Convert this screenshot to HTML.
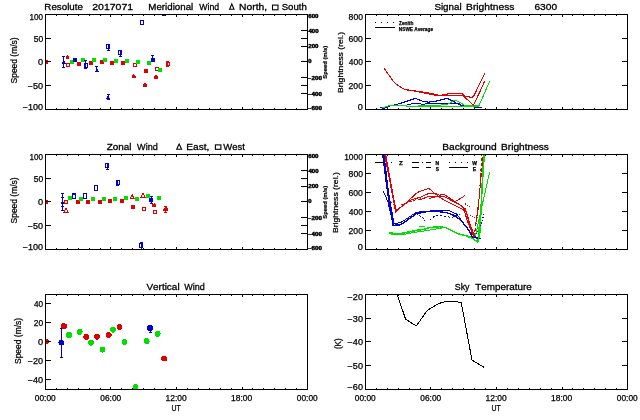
<!DOCTYPE html><html><head><meta charset="utf-8"><title>Resolute 2017071</title>
<style>html,body{margin:0;padding:0;background:#fff;}svg{display:block;will-change:transform;}text{font-family:'Liberation Sans', Arial, Helvetica, sans-serif;fill:#000;stroke:#000;stroke-width:0.25px;font-kerning:none;}</style></head><body>
<svg width="640" height="420" viewBox="0 0 640 420">
<rect width="640" height="420" fill="#fff"/>
<text x="44.35" y="9.8" font-size="9.3" textLength="38.53" lengthAdjust="spacingAndGlyphs" style="stroke-width:0.3px">Resolute</text>
<text x="92.22" y="9.8" font-size="9.3" textLength="40.94" lengthAdjust="spacingAndGlyphs" style="stroke-width:0.3px">2017071</text>
<text x="148.35" y="9.8" font-size="9.3" textLength="44.85" lengthAdjust="spacingAndGlyphs" style="stroke-width:0.3px">Meridional</text>
<text x="199.31" y="9.8" font-size="9.3" textLength="19.8" lengthAdjust="spacingAndGlyphs" style="stroke-width:0.3px">Wind</text>
<text x="239.11" y="9.8" font-size="9.3" textLength="27.97" lengthAdjust="spacingAndGlyphs" style="stroke-width:0.3px">North,</text>
<text x="281.71" y="9.8" font-size="9.3" textLength="25.16" lengthAdjust="spacingAndGlyphs" style="stroke-width:0.3px">South</text>
<text x="106.74" y="149.8" font-size="9.3" textLength="24.78" lengthAdjust="spacingAndGlyphs" style="stroke-width:0.3px">Zonal</text>
<text x="137.11" y="149.8" font-size="9.3" textLength="20.62" lengthAdjust="spacingAndGlyphs" style="stroke-width:0.3px">Wind</text>
<text x="186.32" y="149.8" font-size="9.3" textLength="23.09" lengthAdjust="spacingAndGlyphs" style="stroke-width:0.3px">East,</text>
<text x="223.31" y="149.8" font-size="9.3" textLength="21.51" lengthAdjust="spacingAndGlyphs" style="stroke-width:0.3px">West</text>
<text x="146.41" y="289.9" font-size="9.3" textLength="33.21" lengthAdjust="spacingAndGlyphs" style="stroke-width:0.3px">Vertical</text>
<text x="184.31" y="289.9" font-size="9.3" textLength="20.52" lengthAdjust="spacingAndGlyphs" style="stroke-width:0.3px">Wind</text>
<text x="434.41" y="9.8" font-size="9.3" textLength="27.2" lengthAdjust="spacingAndGlyphs" style="stroke-width:0.3px">Signal</text>
<text x="466.11" y="9.8" font-size="9.3" textLength="48.31" lengthAdjust="spacingAndGlyphs" style="stroke-width:0.3px">Brightness</text>
<text x="534.43" y="9.8" font-size="9.3" textLength="22.72" lengthAdjust="spacingAndGlyphs" style="stroke-width:0.3px">6300</text>
<text x="442.21" y="149.8" font-size="9.3" textLength="54.39" lengthAdjust="spacingAndGlyphs" style="stroke-width:0.3px">Background</text>
<text x="501.02" y="149.8" font-size="9.3" textLength="47.9" lengthAdjust="spacingAndGlyphs" style="stroke-width:0.3px">Brightness</text>
<text x="454.75" y="289.9" font-size="9.3" textLength="14.72" lengthAdjust="spacingAndGlyphs" style="stroke-width:0.3px">Sky</text>
<text x="475.33" y="289.9" font-size="9.3" textLength="56.46" lengthAdjust="spacingAndGlyphs" style="stroke-width:0.3px">Temperature</text>
<path d="M231.8,3.9L234.0,9.2H229.6Z" fill="none" stroke="#000" stroke-width="1.1"/>
<rect x="272.5" y="5.1" width="5.5" height="4.700000000000001" fill="none" stroke="#000" stroke-width="1.1"/>
<path d="M179.14999999999998,144.0L181.6,149.2H176.7Z" fill="none" stroke="#000" stroke-width="1.1"/>
<rect x="215.4" y="144.9" width="5.5" height="4.400000000000006" fill="none" stroke="#000" stroke-width="1.1"/>
<text x="29.58" y="19.6" font-size="8.2" textLength="13.53" lengthAdjust="spacingAndGlyphs">100</text>
<text x="33.66" y="41.9" font-size="8.2" textLength="9.47" lengthAdjust="spacingAndGlyphs">50</text>
<text x="38.04" y="64.6" font-size="8.2" textLength="5.12" lengthAdjust="spacingAndGlyphs">0</text>
<text x="27.75" y="88.8" font-size="8.2" textLength="15.4" lengthAdjust="spacingAndGlyphs">−50</text>
<text x="22.75" y="109.6" font-size="8.2" textLength="20.4" lengthAdjust="spacingAndGlyphs">−100</text>
<text x="29.58" y="159.6" font-size="8.2" textLength="13.53" lengthAdjust="spacingAndGlyphs">100</text>
<text x="33.66" y="181.9" font-size="8.2" textLength="9.47" lengthAdjust="spacingAndGlyphs">50</text>
<text x="38.04" y="204.6" font-size="8.2" textLength="5.12" lengthAdjust="spacingAndGlyphs">0</text>
<text x="27.75" y="228.8" font-size="8.2" textLength="15.4" lengthAdjust="spacingAndGlyphs">−50</text>
<text x="22.75" y="249.6" font-size="8.2" textLength="20.4" lengthAdjust="spacingAndGlyphs">−100</text>
<text x="34.01" y="306.8" font-size="8.2" textLength="9.11" lengthAdjust="spacingAndGlyphs">40</text>
<text x="33.78" y="325.7" font-size="8.2" textLength="9.35" lengthAdjust="spacingAndGlyphs">20</text>
<text x="38.04" y="344.7" font-size="8.2" textLength="5.12" lengthAdjust="spacingAndGlyphs">0</text>
<text x="27.75" y="363.6" font-size="8.2" textLength="15.4" lengthAdjust="spacingAndGlyphs">−20</text>
<text x="27.75" y="382.6" font-size="8.2" textLength="15.4" lengthAdjust="spacingAndGlyphs">−40</text>
<text x="348.63" y="19.6" font-size="8.2" textLength="14.31" lengthAdjust="spacingAndGlyphs">800</text>
<text x="348.56" y="42.0" font-size="8.2" textLength="14.37" lengthAdjust="spacingAndGlyphs">600</text>
<text x="348.81" y="65.3" font-size="8.2" textLength="14.12" lengthAdjust="spacingAndGlyphs">400</text>
<text x="348.57" y="89.0" font-size="8.2" textLength="14.37" lengthAdjust="spacingAndGlyphs">200</text>
<text x="357.84" y="109.6" font-size="8.2" textLength="5.12" lengthAdjust="spacingAndGlyphs">0</text>
<text x="344.16" y="159.6" font-size="8.2" textLength="18.77" lengthAdjust="spacingAndGlyphs">1000</text>
<text x="348.63" y="177.0" font-size="8.2" textLength="14.31" lengthAdjust="spacingAndGlyphs">800</text>
<text x="348.56" y="196.0" font-size="8.2" textLength="14.37" lengthAdjust="spacingAndGlyphs">600</text>
<text x="348.81" y="215.0" font-size="8.2" textLength="14.12" lengthAdjust="spacingAndGlyphs">400</text>
<text x="348.57" y="234.0" font-size="8.2" textLength="14.37" lengthAdjust="spacingAndGlyphs">200</text>
<text x="357.84" y="249.6" font-size="8.2" textLength="5.12" lengthAdjust="spacingAndGlyphs">0</text>
<text x="347.55" y="299.8" font-size="8.2" textLength="15.4" lengthAdjust="spacingAndGlyphs">−20</text>
<text x="347.55" y="321.7" font-size="8.2" textLength="15.4" lengthAdjust="spacingAndGlyphs">−30</text>
<text x="347.55" y="345.4" font-size="8.2" textLength="15.4" lengthAdjust="spacingAndGlyphs">−40</text>
<text x="347.55" y="369.2" font-size="8.2" textLength="15.4" lengthAdjust="spacingAndGlyphs">−50</text>
<text x="347.55" y="389.6" font-size="8.2" textLength="15.4" lengthAdjust="spacingAndGlyphs">−60</text>
<text x="308.29" y="17.7" font-size="4.8" textLength="10.25" lengthAdjust="spacingAndGlyphs" font-weight="bold" style="stroke-width:0.4px">600</text>
<text x="308.46" y="32.8" font-size="4.8" textLength="10.07" lengthAdjust="spacingAndGlyphs" font-weight="bold" style="stroke-width:0.4px">400</text>
<text x="308.29" y="48.4" font-size="4.8" textLength="10.25" lengthAdjust="spacingAndGlyphs" font-weight="bold" style="stroke-width:0.4px">200</text>
<text x="308.37" y="63.3" font-size="4.8" textLength="3.26" lengthAdjust="spacingAndGlyphs" font-weight="bold" style="stroke-width:0.4px">0</text>
<text x="307.89" y="79.6" font-size="4.8" textLength="14.16" lengthAdjust="spacingAndGlyphs" font-weight="bold" style="stroke-width:0.4px">−200</text>
<text x="307.89" y="95.6" font-size="4.8" textLength="14.16" lengthAdjust="spacingAndGlyphs" font-weight="bold" style="stroke-width:0.4px">−400</text>
<text x="307.89" y="109.6" font-size="4.8" textLength="14.16" lengthAdjust="spacingAndGlyphs" font-weight="bold" style="stroke-width:0.4px">−600</text>
<text transform="translate(327.0,78.67) rotate(-90)" x="0" y="0" font-size="5.2" textLength="32.95" lengthAdjust="spacingAndGlyphs" font-weight="bold" style="stroke-width:0.2px">Speed (m/s)</text>
<text x="308.29" y="157.7" font-size="4.8" textLength="10.25" lengthAdjust="spacingAndGlyphs" font-weight="bold" style="stroke-width:0.4px">600</text>
<text x="308.46" y="172.8" font-size="4.8" textLength="10.07" lengthAdjust="spacingAndGlyphs" font-weight="bold" style="stroke-width:0.4px">400</text>
<text x="308.29" y="188.4" font-size="4.8" textLength="10.25" lengthAdjust="spacingAndGlyphs" font-weight="bold" style="stroke-width:0.4px">200</text>
<text x="308.37" y="203.3" font-size="4.8" textLength="3.26" lengthAdjust="spacingAndGlyphs" font-weight="bold" style="stroke-width:0.4px">0</text>
<text x="307.89" y="219.6" font-size="4.8" textLength="14.16" lengthAdjust="spacingAndGlyphs" font-weight="bold" style="stroke-width:0.4px">−200</text>
<text x="307.89" y="235.6" font-size="4.8" textLength="14.16" lengthAdjust="spacingAndGlyphs" font-weight="bold" style="stroke-width:0.4px">−400</text>
<text x="307.89" y="249.6" font-size="4.8" textLength="14.16" lengthAdjust="spacingAndGlyphs" font-weight="bold" style="stroke-width:0.4px">−600</text>
<text transform="translate(327.0,218.67) rotate(-90)" x="0" y="0" font-size="5.2" textLength="32.95" lengthAdjust="spacingAndGlyphs" font-weight="bold" style="stroke-width:0.2px">Speed (m/s)</text>
<text transform="translate(16.9,83.38) rotate(-90)" x="0" y="0" font-size="8.5" textLength="45.91" lengthAdjust="spacingAndGlyphs">Speed (m/s)</text>
<text transform="translate(16.9,223.38) rotate(-90)" x="0" y="0" font-size="8.5" textLength="45.91" lengthAdjust="spacingAndGlyphs">Speed (m/s)</text>
<text transform="translate(20.6,363.98) rotate(-90)" x="0" y="0" font-size="8.5" textLength="46.11" lengthAdjust="spacingAndGlyphs">Speed (m/s)</text>
<text transform="translate(342.6,93.01) rotate(-90)" x="0" y="0" font-size="8.0" textLength="61.15" lengthAdjust="spacingAndGlyphs">Brightness (rel.)</text>
<text transform="translate(338.3,233.01) rotate(-90)" x="0" y="0" font-size="8.0" textLength="60.84" lengthAdjust="spacingAndGlyphs">Brightness (rel.)</text>
<text transform="translate(340.6,349.1) rotate(-90)" x="0" y="0" font-size="8.6" textLength="10.7" lengthAdjust="spacingAndGlyphs">(K)</text>
<text x="34.87" y="400.7" font-size="8.2" textLength="20.85" lengthAdjust="spacingAndGlyphs">00:00</text>
<text x="100.37" y="400.7" font-size="8.2" textLength="20.85" lengthAdjust="spacingAndGlyphs">06:00</text>
<text x="165.56" y="400.7" font-size="8.2" textLength="21.18" lengthAdjust="spacingAndGlyphs">12:00</text>
<text x="231.06" y="400.7" font-size="8.2" textLength="21.18" lengthAdjust="spacingAndGlyphs">18:00</text>
<text x="296.87" y="400.7" font-size="8.2" textLength="20.85" lengthAdjust="spacingAndGlyphs">00:00</text>
<text x="171.56" y="410.8" font-size="8.2" textLength="9.3" lengthAdjust="spacingAndGlyphs">UT</text>
<text x="354.87" y="400.7" font-size="8.2" textLength="20.85" lengthAdjust="spacingAndGlyphs">00:00</text>
<text x="420.37" y="400.7" font-size="8.2" textLength="20.85" lengthAdjust="spacingAndGlyphs">06:00</text>
<text x="485.56" y="400.7" font-size="8.2" textLength="21.18" lengthAdjust="spacingAndGlyphs">12:00</text>
<text x="551.06" y="400.7" font-size="8.2" textLength="21.18" lengthAdjust="spacingAndGlyphs">18:00</text>
<text x="616.87" y="400.7" font-size="8.2" textLength="20.85" lengthAdjust="spacingAndGlyphs">00:00</text>
<text x="491.56" y="410.8" font-size="8.2" textLength="9.3" lengthAdjust="spacingAndGlyphs">UT</text>
<text x="399.04" y="24.5" font-size="5.2" textLength="14.3" lengthAdjust="spacingAndGlyphs" font-weight="bold">Zenith</text>
<text x="398.8" y="30.8" font-size="5.2" textLength="34.22" lengthAdjust="spacingAndGlyphs" font-weight="bold">NSWE Average</text>
<path d="M375,22.5h1M381,22.5h1M387,22.5h1M393,22.5h1" stroke="#000" stroke-width="1" shape-rendering="crispEdges"/>
<path d="M375,27.5H394.5" stroke="#000" stroke-width="1" shape-rendering="crispEdges"/>
<text x="399.0" y="164.5" font-size="4.6" textLength="3.79" lengthAdjust="spacingAndGlyphs" font-weight="bold">Z</text>
<text x="435.59" y="164.7" font-size="4.6" textLength="3.62" lengthAdjust="spacingAndGlyphs" font-weight="bold">N</text>
<text x="435.78" y="170.6" font-size="4.6" textLength="3.24" lengthAdjust="spacingAndGlyphs" font-weight="bold">S</text>
<text x="472.28" y="164.6" font-size="4.6" textLength="4.74" lengthAdjust="spacingAndGlyphs" font-weight="bold">W</text>
<text x="472.79" y="170.6" font-size="4.6" textLength="3.32" lengthAdjust="spacingAndGlyphs" font-weight="bold">E</text>
<g stroke="#000" stroke-width="1" shape-rendering="crispEdges" fill="none">
<path d="M375,162.5H383.5M387,162.5h1M391,162.5h1"/>
<path d="M412,162.5H419M422,162.5h1M426,162.5H431"/>
<path d="M412,167.5H419M426,167.5H431"/>
<path d="M449,162.5h1M455,162.5h1M461,162.5h1M467,162.5h1"/>
<path d="M449,167.5H468"/>
</g>
<clipPath id="c00"><rect x="45.5" y="14.5" width="262" height="95"/></clipPath>
<g clip-path="url(#c00)" shape-rendering="crispEdges">
<rect x="44" y="60" width="4" height="4" fill="#e00000"/>
<path d="M63.5,56.5V67.5M62.0,56.5h3M62.0,67.5h3" stroke="#0000d0" stroke-width="1" fill="none"/>
<path d="M63.7,59.769999999999996L66.0,64.36999999999999H61.400000000000006Z" fill="#0000d0"/>
<path d="M67.5,55.220000000000006L69.3,56.84V58.82H65.7V56.84Z" fill="#e00000"/>
<rect x="66.5" y="63.5" width="3" height="3" fill="none" stroke="#e00000" stroke-width="1"/>
<rect x="70" y="60" width="4" height="4" fill="#00e000"/>
<rect x="73" y="58" width="4" height="4" fill="#0000d0"/>
<rect x="77" y="62" width="4" height="4" fill="#e00000"/>
<rect x="81" y="58" width="4" height="4" fill="#00e000"/>
<path d="M85.5,60.5V68.5M84.0,60.5h3M84.0,68.5h3" stroke="#0000d0" stroke-width="1" fill="none"/>
<rect x="84.5" y="63.5" width="3" height="4" fill="none" stroke="#0000d0" stroke-width="1"/>
<rect x="89" y="61" width="4" height="4" fill="#e00000"/>
<rect x="92" y="58" width="4" height="4" fill="#00e000"/>
<path d="M96.5,66.5V71.5M95.0,66.5h3M95.0,71.5h3" stroke="#0000d0" stroke-width="1" fill="none"/>
<path d="M96.9,67.8L98.9,71.8H94.9Z" fill="#0000d0"/>
<rect x="100" y="60" width="4" height="4" fill="#e00000"/>
<rect x="103" y="58" width="4" height="4" fill="#00e000"/>
<path d="M108.5,44.5V50.5M107.0,44.5h3M107.0,50.5h3" stroke="#0000d0" stroke-width="1" fill="none"/>
<rect x="106.5" y="44.5" width="3" height="4" fill="none" stroke="#0000d0" stroke-width="1"/>
<rect x="110" y="61" width="4" height="4" fill="#e00000"/>
<rect x="114" y="59" width="4" height="4" fill="#00e000"/>
<path d="M120.5,50.5V56.5M119.0,50.5h3M119.0,56.5h3" stroke="#0000d0" stroke-width="1" fill="none"/>
<rect x="118.5" y="50.5" width="3" height="4" fill="none" stroke="#0000d0" stroke-width="1"/>
<rect x="121" y="61" width="4" height="4" fill="#e00000"/>
<rect x="125" y="59" width="4" height="4" fill="#00e000"/>
<path d="M133.8,73.98L136.0,75.96000000000001V78.38000000000001H131.60000000000002V75.96000000000001Z" fill="#e00000"/>
<rect x="133.5" y="63.5" width="3" height="3" fill="none" stroke="#e00000" stroke-width="1"/>
<rect x="136" y="60" width="4" height="4" fill="#00e000"/>
<rect x="140.5" y="20.5" width="3" height="4" fill="none" stroke="#0000d0" stroke-width="1"/>
<path d="M145.0,82.58L147.2,84.56V86.98H142.8V84.56Z" fill="#e00000"/>
<rect x="144" y="69" width="4" height="4" fill="#e00000"/>
<rect x="147" y="61" width="4" height="4" fill="#00e000"/>
<path d="M152.5,55.5V61.5M151.0,55.5h3M151.0,61.5h3" stroke="#0000d0" stroke-width="1" fill="none"/>
<rect x="151" y="58" width="4" height="4" fill="#0000d0"/>
<rect x="155.5" y="67.5" width="3" height="3" fill="none" stroke="#e00000" stroke-width="1"/>
<path d="M156.2,74.78L158.39999999999998,76.76V79.18H154.0V76.76Z" fill="#e00000"/>
<rect x="158" y="68" width="4" height="4" fill="#00e000"/>
<rect x="162.5" y="11.5" width="3" height="4" fill="none" stroke="#0000d0" stroke-width="1"/>
<path d="M167.5,61.5V66.5M166.0,61.5h3M166.0,66.5h3" stroke="#e00000" stroke-width="1" fill="none"/>
<rect x="166.5" y="62.5" width="3" height="3" fill="none" stroke="#e00000" stroke-width="1"/>
<path d="M108.5,94.5V99.5M107.0,94.5h3M107.0,99.5h3" stroke="#0000d0" stroke-width="1" fill="none"/>
<path d="M108.1,95.28999999999999L110.19999999999999,99.49H106.0Z" fill="#0000d0"/>
</g>
<clipPath id="c01"><rect x="45.5" y="154.5" width="262" height="95"/></clipPath>
<g clip-path="url(#c01)" shape-rendering="crispEdges">
<rect x="44" y="200" width="4" height="4" fill="#e00000"/>
<path d="M62.5,193.5V210.5M61.0,193.5h3M61.0,210.5h3" stroke="#0000d0" stroke-width="1" fill="none"/>
<path d="M61,197.5h3M61,206.5h3" stroke="#0000d0" stroke-width="1"/>
<path d="M62.6,199.78L64.8,204.17999999999998H60.4Z" fill="#0000d0"/>
<rect x="64.5" y="200.5" width="3" height="3" fill="none" stroke="#e00000" stroke-width="1"/>
<path d="M65.9,207.89L68.0,212.08999999999997H63.800000000000004Z" fill="none" stroke="#e00000" stroke-width="1"/>
<rect x="68" y="196" width="4" height="4" fill="#00e000"/>
<rect x="72.5" y="194.5" width="3" height="4" fill="none" stroke="#0000d0" stroke-width="1"/>
<rect x="72.5" y="193.5" width="3" height="5" fill="none" stroke="#0000d0" stroke-width="1"/>
<rect x="76" y="200" width="4" height="4" fill="#e00000"/>
<rect x="79" y="197" width="4" height="4" fill="#00e000"/>
<rect x="83.5" y="193.5" width="3" height="5" fill="none" stroke="#0000d0" stroke-width="1"/>
<rect x="86" y="200" width="4" height="4" fill="#e00000"/>
<rect x="91" y="197" width="4" height="4" fill="#00e000"/>
<rect x="94.5" y="185.5" width="3" height="5" fill="none" stroke="#0000d0" stroke-width="1"/>
<rect x="98" y="200" width="4" height="4" fill="#e00000"/>
<rect x="102" y="197" width="4" height="4" fill="#00e000"/>
<path d="M107.5,163.5V169.5M106.0,163.5h3M106.0,169.5h3" stroke="#0000d0" stroke-width="1" fill="none"/>
<rect x="105.5" y="163.5" width="3" height="4" fill="none" stroke="#0000d0" stroke-width="1"/>
<rect x="108" y="199" width="4" height="4" fill="#e00000"/>
<rect x="113" y="197" width="4" height="4" fill="#00e000"/>
<path d="M117.5,180.5V185.5M116.0,180.5h3M116.0,185.5h3" stroke="#0000d0" stroke-width="1" fill="none"/>
<rect x="116.5" y="180.5" width="3" height="4" fill="none" stroke="#0000d0" stroke-width="1"/>
<rect x="120" y="199" width="4" height="4" fill="#e00000"/>
<rect x="124" y="196" width="4" height="4" fill="#00e000"/>
<path d="M132.2,194.8L134.2,198.8H130.2Z" fill="none" stroke="#e00000" stroke-width="1"/>
<rect x="131" y="205" width="4" height="4" fill="#e00000"/>
<rect x="135" y="197" width="4" height="4" fill="#00e000"/>
<path d="M141.5,242.5V250.5M140.0,242.5h3M140.0,250.5h3" stroke="#0000d0" stroke-width="1" fill="none"/>
<rect x="139.5" y="243.5" width="3" height="4" fill="none" stroke="#0000d0" stroke-width="1"/>
<path d="M143.0,193.0L145.0,197.0H141.0Z" fill="none" stroke="#e00000" stroke-width="1"/>
<rect x="142.5" y="207.5" width="3" height="3" fill="none" stroke="#e00000" stroke-width="1"/>
<rect x="146" y="194" width="4" height="4" fill="#00e000"/>
<path d="M151.5,196.5V203.5M150.0,196.5h3M150.0,203.5h3" stroke="#0000d0" stroke-width="1" fill="none"/>
<rect x="149" y="198" width="4" height="4" fill="#0000d0"/>
<path d="M154.3,202.8L156.3,204.6V206.8H152.3V204.6Z" fill="#e00000"/>
<rect x="153.5" y="210.5" width="3" height="3" fill="none" stroke="#e00000" stroke-width="1"/>
<rect x="157" y="196" width="4" height="4" fill="#00e000"/>
<path d="M165.5,206.5V212.5M164.0,206.5h3M164.0,212.5h3" stroke="#e00000" stroke-width="1" fill="none"/>
<path d="M165.7,206.77L168.0,208.84V211.37H163.39999999999998V208.84Z" fill="#e00000"/>
</g>
<clipPath id="c02"><rect x="45.5" y="294.5" width="262" height="95"/></clipPath>
<g clip-path="url(#c02)" shape-rendering="crispEdges">
<circle cx="45.8" cy="341.5" r="2.9" fill="#e00000"/>
<path d="M61.5,328.5V357.5M60.0,328.5h3M60.0,357.5h3" stroke="#0000d0" stroke-width="1" fill="none"/>
<circle cx="64.0" cy="326.1" r="2.9" fill="#e00000"/>
<circle cx="61.3" cy="342.7" r="2.9" fill="#0000d0"/>
<circle cx="69.0" cy="335.0" r="2.9" fill="#00e000"/>
<circle cx="79.7" cy="331.8" r="2.9" fill="#00e000"/>
<circle cx="86.3" cy="336.8" r="2.9" fill="#e00000"/>
<circle cx="91.0" cy="342.7" r="2.9" fill="#00e000"/>
<circle cx="97.0" cy="336.8" r="2.9" fill="#e00000"/>
<circle cx="102.4" cy="349.7" r="2.9" fill="#00e000"/>
<circle cx="108.7" cy="335.1" r="2.9" fill="#e00000"/>
<circle cx="113.0" cy="329.8" r="2.9" fill="#00e000"/>
<circle cx="119.6" cy="326.9" r="2.9" fill="#e00000"/>
<circle cx="124.4" cy="341.9" r="2.9" fill="#00e000"/>
<circle cx="135.5" cy="387.0" r="2.9" fill="#00e000"/>
<circle cx="146.7" cy="341.2" r="2.9" fill="#00e000"/>
<path d="M150.5,325.5V332.5M149.0,325.5h3M149.0,332.5h3" stroke="#0000d0" stroke-width="1" fill="none"/>
<circle cx="150.0" cy="328.1" r="2.9" fill="#0000d0"/>
<circle cx="157.7" cy="333.8" r="2.9" fill="#00e000"/>
<circle cx="164.2" cy="358.6" r="2.9" fill="#e00000"/>
</g>
<clipPath id="c10"><rect x="365.5" y="14.5" width="262" height="95"/></clipPath>
<g clip-path="url(#c10)" shape-rendering="crispEdges">
<polyline points="380.6,108 388.2,106.5 397.6,104.2 415.4,98.4 422.9,101.4 428.5,102.1 436,101.2 447.2,98.3 452.9,101.1 458.5,104.4 464.1,106.7 481.9,107.2" fill="none" stroke="#0000d0" stroke-width="1.1" stroke-linejoin="round" shape-rendering="crispEdges"/>
<polyline points="406.9,104.7 415.4,103.4 422.9,104.2 436,103.2 448.2,103.6 454.7,103 459.4,103.5 462.2,105.8 470,106.5" fill="none" stroke="#0000d0" stroke-width="1.0" stroke-linejoin="round" shape-rendering="crispEdges"/>
<polyline points="381.6,108.6 388.2,107.2" fill="none" stroke="#0000d0" stroke-width="1.2" stroke-linejoin="round" shape-rendering="crispEdges"/>
<polyline points="382.5,108 389,105.6 404,105.1 408,106.3 436,105.5 447.2,104.4 454.7,100.2 460.4,102.5 464.1,105.3 479.1,105.3 489.8,81" fill="none" stroke="#00e000" stroke-width="1.0" stroke-linejoin="round" shape-rendering="crispEdges"/>
<polyline points="406,106.6 479,106.2" fill="none" stroke="#00e000" stroke-width="1.0" stroke-linejoin="round" shape-rendering="crispEdges"/>
<polyline points="384.3,68.3 387.1,72.6 390.7,77.6 394.3,82.6 397.9,85.4 401.4,87.6 405.7,89.7 412,90.4 415.3,90.9 427.5,92.8 436,94.6 439.7,95.5 443.5,94.7 449.1,93.8 462.2,93.8 465,96.2 471.6,97.4 473.5,96.6 484.8,73.1" fill="none" stroke="#e00000" stroke-width="1.1" stroke-linejoin="round" shape-rendering="crispEdges"/>
<polyline points="384.3,68.3 387.1,72.6 390.7,77.6 394.3,82.6 397.9,85.4 401.4,87.6 405.7,89.7 412,90.6 415.3,91.2 427.5,93.6 436,95.5 449.1,95.1 462.2,95.1 466,98.3 473.5,105.3 484.8,81" fill="none" stroke="#e00000" stroke-width="1.1" stroke-linejoin="round" shape-rendering="crispEdges"/>
</g>
<clipPath id="c11"><rect x="365.5" y="154.5" width="262" height="95"/></clipPath>
<g clip-path="url(#c11)" shape-rendering="crispEdges">
<polyline points="389.3,233.1 400.3,233.6 409.8,231.7 417.4,230.2 424.1,229.3 430,227.5 439.4,226.7 445.9,227.7 452.5,230.9 458.1,233.7 465.6,235.6 471.2,237.5 477.8,242.2 480,232 483.6,154" fill="none" stroke="#00e000" stroke-width="1.5" stroke-linejoin="round" shape-rendering="crispEdges"/>
<polyline points="391,234.6 400.3,235 410,233.2 418,231.8 425,230.8 436,229 442,228.6" fill="none" stroke="#00e000" stroke-width="1.0" stroke-linejoin="round" shape-rendering="crispEdges"/>
<polyline points="466,236.4 474,239 477.8,242.2" fill="none" stroke="#00e000" stroke-width="1.0" stroke-linejoin="round" shape-rendering="crispEdges"/>
<polyline points="477.8,242.2 481.6,198 484.5,154" fill="none" stroke="#00e000" stroke-width="1.1" stroke-linejoin="round" shape-rendering="crispEdges"/>
<polyline points="475,238 480,215 489.6,172.2" fill="none" stroke="#00e000" stroke-width="1.0" stroke-linejoin="round" shape-rendering="crispEdges"/>
<polyline points="419.3,226.4 425,226.4" fill="none" stroke="#00e000" stroke-width="1.0" stroke-linejoin="round" shape-rendering="crispEdges"/>
<polyline points="382.7,154 387,188 393.1,225.5 401.2,224.5 409.8,218.3 416.5,213.6 426,211.7 436,211.4 446,212.5 453,215 460.8,220 467.9,229 472.7,237.3 481,238.5" fill="none" stroke="#0000d0" stroke-width="1.4" stroke-linejoin="round" shape-rendering="crispEdges"/>
<polyline points="383.9,154 388.5,192 394,224 401,222.4 416.5,212.3 436,210.4 449,210.7 456.7,214 463.3,223 471,233.5 475,237" fill="none" stroke="#0000d0" stroke-width="1.0" stroke-linejoin="round" shape-rendering="crispEdges"/>
<polyline points="383.4,191.3 388,202 392.5,222" fill="none" stroke="#0000d0" stroke-width="1.0" stroke-linejoin="round" shape-rendering="crispEdges"/>
<polyline points="392,225.8 400,225.6" fill="none" stroke="#0000d0" stroke-width="1.2" stroke-linejoin="round" shape-rendering="crispEdges"/>
<polyline points="416.5,213.6 423,218 425,221" fill="none" stroke="#0000d0" stroke-width="1.0" stroke-linejoin="round" shape-rendering="crispEdges" stroke-dasharray="2,1.5"/>
<polyline points="430,220 436,215 444,216 452,217.5 460,214" fill="none" stroke="#0000d0" stroke-width="1.0" stroke-linejoin="round" shape-rendering="crispEdges" stroke-dasharray="2,2"/>
<polyline points="475,237 480,228 484,214" fill="none" stroke="#0000d0" stroke-width="1.0" stroke-linejoin="round" shape-rendering="crispEdges" stroke-dasharray="1,2"/>
<polyline points="384.6,154 395.7,212.1 417.3,192.5 421.5,190.8 428.9,188.4 433.7,192.5 439.6,197.3 446.8,201.5 460,208 464.3,210.5 467,220 473.9,237.3" fill="none" stroke="#e00000" stroke-width="1.0" stroke-linejoin="round" shape-rendering="crispEdges"/>
<polyline points="385.6,154 395.9,210.5 410.7,200 420,197.3 428.9,193.4 436.7,193.7 439.6,195.2 443.8,194.3 452,199.5 462,206.5 466,212 469,222 473.9,237.3" fill="none" stroke="#e00000" stroke-width="1.0" stroke-linejoin="round" shape-rendering="crispEdges"/>
<polyline points="420,199.7 430,196 436,196.5 443.8,196.3 450,199.7 460,205 465.5,209 470,224 474.5,236" fill="none" stroke="#e00000" stroke-width="1.0" stroke-linejoin="round" shape-rendering="crispEdges"/>
<polyline points="389,201 394,204.5 398,206" fill="none" stroke="#e00000" stroke-width="1.0" stroke-linejoin="round" shape-rendering="crispEdges" stroke-dasharray="1,1.5"/>
<polyline points="400.7,205 414.8,200 421.5,198.75" fill="none" stroke="#e00000" stroke-width="1.0" stroke-linejoin="round" shape-rendering="crispEdges" stroke-dasharray="3,1.5"/>
<polyline points="429.5,198.5 436.1,196.7" fill="none" stroke="#e00000" stroke-width="1.0" stroke-linejoin="round" shape-rendering="crispEdges"/>
<polyline points="456.6,200.8 464.7,195.8" fill="none" stroke="#e00000" stroke-width="1.0" stroke-linejoin="round" shape-rendering="crispEdges"/>
<polyline points="465,203.5 470.6,207.7" fill="none" stroke="#e00000" stroke-width="1.0" stroke-linejoin="round" shape-rendering="crispEdges" stroke-dasharray="1,1.5"/>
<polyline points="470,215 476,218" fill="none" stroke="#e00000" stroke-width="1.0" stroke-linejoin="round" shape-rendering="crispEdges" stroke-dasharray="1,1.5"/>
<polyline points="479,236 480.6,214 483.6,154" fill="none" stroke="#00e000" stroke-width="1.2" stroke-linejoin="round" shape-rendering="crispEdges"/>
<polyline points="477.8,242.2 481.6,198 484.5,154" fill="none" stroke="#00e000" stroke-width="1.0" stroke-linejoin="round" shape-rendering="crispEdges"/>
<polyline points="473.9,237.3 477.5,215 483.3,154" fill="none" stroke="#e00000" stroke-width="1.0" stroke-linejoin="round" shape-rendering="crispEdges" stroke-dasharray="4,1.5"/>
<polyline points="474.5,236 479.2,198 482,154" fill="none" stroke="#e00000" stroke-width="1.0" stroke-linejoin="round" shape-rendering="crispEdges" stroke-dasharray="3,2"/>
<polyline points="475.6,225.4 479.2,198 481,175" fill="none" stroke="#e00000" stroke-width="1.0" stroke-linejoin="round" shape-rendering="crispEdges"/>
</g>
<clipPath id="c12"><rect x="365.5" y="294.5" width="262" height="95"/></clipPath>
<g clip-path="url(#c12)" shape-rendering="crispEdges">
<polyline points="396.6,292.5 397.25,294.5 405.6,319.25 416.25,326 427.5,310.1 432.5,307.25 438.1,303.9 442.5,302.25 448.1,301.4 455,301.4 461.25,302.6 472,360.1 483.9,367.3" fill="none" stroke="#000" stroke-width="1.0" stroke-linejoin="round" shape-rendering="crispEdges"/>
</g>
<g shape-rendering="crispEdges" stroke="#000" stroke-width="1" fill="none">
<path d="M45.5,14.5H307.5V109.5H45.5Z"/>
<path d="M56.5,109v-1M56.5,15v1M67.5,109v-1M67.5,15v1M78.5,109v-1M78.5,15v1M89.5,109v-1M89.5,15v1M100.5,109v-1M100.5,15v1M110.5,109v-2M110.5,15v2M121.5,109v-1M121.5,15v1M132.5,109v-1M132.5,15v1M143.5,109v-1M143.5,15v1M154.5,109v-1M154.5,15v1M165.5,109v-1M165.5,15v1M176.5,109v-2M176.5,15v2M187.5,109v-1M187.5,15v1M198.5,109v-1M198.5,15v1M209.5,109v-1M209.5,15v1M220.5,109v-1M220.5,15v1M231.5,109v-1M231.5,15v1M242.5,109v-2M242.5,15v2M252.5,109v-1M252.5,15v1M263.5,109v-1M263.5,15v1M274.5,109v-1M274.5,15v1M285.5,109v-1M285.5,15v1M296.5,109v-1M296.5,15v1"/>
</g>
<g shape-rendering="crispEdges" stroke="#000" stroke-width="1" fill="none">
<path d="M45.5,154.5H307.5V249.5H45.5Z"/>
<path d="M56.5,249v-1M56.5,155v1M67.5,249v-1M67.5,155v1M78.5,249v-1M78.5,155v1M89.5,249v-1M89.5,155v1M100.5,249v-1M100.5,155v1M110.5,249v-2M110.5,155v2M121.5,249v-1M121.5,155v1M132.5,249v-1M132.5,155v1M143.5,249v-1M143.5,155v1M154.5,249v-1M154.5,155v1M165.5,249v-1M165.5,155v1M176.5,249v-2M176.5,155v2M187.5,249v-1M187.5,155v1M198.5,249v-1M198.5,155v1M209.5,249v-1M209.5,155v1M220.5,249v-1M220.5,155v1M231.5,249v-1M231.5,155v1M242.5,249v-2M242.5,155v2M252.5,249v-1M252.5,155v1M263.5,249v-1M263.5,155v1M274.5,249v-1M274.5,155v1M285.5,249v-1M285.5,155v1M296.5,249v-1M296.5,155v1"/>
</g>
<g shape-rendering="crispEdges" stroke="#000" stroke-width="1" fill="none">
<path d="M45.5,294.5H307.5V389.5H45.5Z"/>
<path d="M56.5,389v-1M56.5,295v1M67.5,389v-1M67.5,295v1M78.5,389v-1M78.5,295v1M89.5,389v-1M89.5,295v1M100.5,389v-1M100.5,295v1M110.5,389v-2M110.5,295v2M121.5,389v-1M121.5,295v1M132.5,389v-1M132.5,295v1M143.5,389v-1M143.5,295v1M154.5,389v-1M154.5,295v1M165.5,389v-1M165.5,295v1M176.5,389v-2M176.5,295v2M187.5,389v-1M187.5,295v1M198.5,389v-1M198.5,295v1M209.5,389v-1M209.5,295v1M220.5,389v-1M220.5,295v1M231.5,389v-1M231.5,295v1M242.5,389v-2M242.5,295v2M252.5,389v-1M252.5,295v1M263.5,389v-1M263.5,295v1M274.5,389v-1M274.5,295v1M285.5,389v-1M285.5,295v1M296.5,389v-1M296.5,295v1"/>
</g>
<g shape-rendering="crispEdges" stroke="#000" stroke-width="1" fill="none">
<path d="M365.5,14.5H627.5V109.5H365.5Z"/>
<path d="M376.5,109v-1M376.5,15v1M387.5,109v-1M387.5,15v1M398.5,109v-1M398.5,15v1M409.5,109v-1M409.5,15v1M420.5,109v-1M420.5,15v1M430.5,109v-2M430.5,15v2M441.5,109v-1M441.5,15v1M452.5,109v-1M452.5,15v1M463.5,109v-1M463.5,15v1M474.5,109v-1M474.5,15v1M485.5,109v-1M485.5,15v1M496.5,109v-2M496.5,15v2M507.5,109v-1M507.5,15v1M518.5,109v-1M518.5,15v1M529.5,109v-1M529.5,15v1M540.5,109v-1M540.5,15v1M551.5,109v-1M551.5,15v1M562.5,109v-2M562.5,15v2M572.5,109v-1M572.5,15v1M583.5,109v-1M583.5,15v1M594.5,109v-1M594.5,15v1M605.5,109v-1M605.5,15v1M616.5,109v-1M616.5,15v1"/>
</g>
<g shape-rendering="crispEdges" stroke="#000" stroke-width="1" fill="none">
<path d="M365.5,154.5H627.5V249.5H365.5Z"/>
<path d="M376.5,249v-1M376.5,155v1M387.5,249v-1M387.5,155v1M398.5,249v-1M398.5,155v1M409.5,249v-1M409.5,155v1M420.5,249v-1M420.5,155v1M430.5,249v-2M430.5,155v2M441.5,249v-1M441.5,155v1M452.5,249v-1M452.5,155v1M463.5,249v-1M463.5,155v1M474.5,249v-1M474.5,155v1M485.5,249v-1M485.5,155v1M496.5,249v-2M496.5,155v2M507.5,249v-1M507.5,155v1M518.5,249v-1M518.5,155v1M529.5,249v-1M529.5,155v1M540.5,249v-1M540.5,155v1M551.5,249v-1M551.5,155v1M562.5,249v-2M562.5,155v2M572.5,249v-1M572.5,155v1M583.5,249v-1M583.5,155v1M594.5,249v-1M594.5,155v1M605.5,249v-1M605.5,155v1M616.5,249v-1M616.5,155v1"/>
</g>
<g shape-rendering="crispEdges" stroke="#000" stroke-width="1" fill="none">
<path d="M365.5,294.5H627.5V389.5H365.5Z"/>
<path d="M376.5,389v-1M376.5,295v1M387.5,389v-1M387.5,295v1M398.5,389v-1M398.5,295v1M409.5,389v-1M409.5,295v1M420.5,389v-1M420.5,295v1M430.5,389v-2M430.5,295v2M441.5,389v-1M441.5,295v1M452.5,389v-1M452.5,295v1M463.5,389v-1M463.5,295v1M474.5,389v-1M474.5,295v1M485.5,389v-1M485.5,295v1M496.5,389v-2M496.5,295v2M507.5,389v-1M507.5,295v1M518.5,389v-1M518.5,295v1M529.5,389v-1M529.5,295v1M540.5,389v-1M540.5,295v1M551.5,389v-1M551.5,295v1M562.5,389v-2M562.5,295v2M572.5,389v-1M572.5,295v1M583.5,389v-1M583.5,295v1M594.5,389v-1M594.5,295v1M605.5,389v-1M605.5,295v1M616.5,389v-1M616.5,295v1"/>
</g>
<path d="M46,109.5h5M46,85.5h5M46,61.5h5M46,38.5h5M46,14.5h5" stroke="#000" stroke-width="1" shape-rendering="crispEdges" fill="none"/>
<path d="M46,249.5h5M46,225.5h5M46,201.5h5M46,178.5h5M46,154.5h5" stroke="#000" stroke-width="1" shape-rendering="crispEdges" fill="none"/>
<path d="M46,379.5h5M46,360.5h5M46,341.5h5M46,322.5h5M46,303.5h5" stroke="#000" stroke-width="1" shape-rendering="crispEdges" fill="none"/>
<path d="M307,109.5h-6M307,93.5h-6M307,85.5h-6M307,77.5h-6M307,61.5h-6M307,46.5h-6M307,38.5h-6M307,30.5h-6M307,14.5h-6" stroke="#000" stroke-width="1" shape-rendering="crispEdges" fill="none"/>
<path d="M307,249.5h-6M307,233.5h-6M307,225.5h-6M307,217.5h-6M307,201.5h-6M307,186.5h-6M307,178.5h-6M307,170.5h-6M307,154.5h-6" stroke="#000" stroke-width="1" shape-rendering="crispEdges" fill="none"/>
<path d="M366,109.5h5M366,85.5h5M366,61.5h5M366,38.5h5M366,14.5h5" stroke="#000" stroke-width="1" shape-rendering="crispEdges" fill="none"/>
<path d="M366,249.5h5M366,230.5h5M366,211.5h5M366,192.5h5M366,173.5h5M366,154.5h5" stroke="#000" stroke-width="1" shape-rendering="crispEdges" fill="none"/>
<path d="M366,389.5h5M366,365.5h5M366,341.5h5M366,318.5h5M366,294.5h5" stroke="#000" stroke-width="1" shape-rendering="crispEdges" fill="none"/>
<path d="M627,109.5h-5M627,85.5h-5M627,61.5h-5M627,38.5h-5M627,14.5h-5" stroke="#000" stroke-width="1" shape-rendering="crispEdges" fill="none"/>
<path d="M627,249.5h-5M627,230.5h-5M627,211.5h-5M627,192.5h-5M627,173.5h-5M627,154.5h-5" stroke="#000" stroke-width="1" shape-rendering="crispEdges" fill="none"/>
<path d="M627,389.5h-5M627,365.5h-5M627,341.5h-5M627,318.5h-5M627,294.5h-5" stroke="#000" stroke-width="1" shape-rendering="crispEdges" fill="none"/>
</svg></body></html>
